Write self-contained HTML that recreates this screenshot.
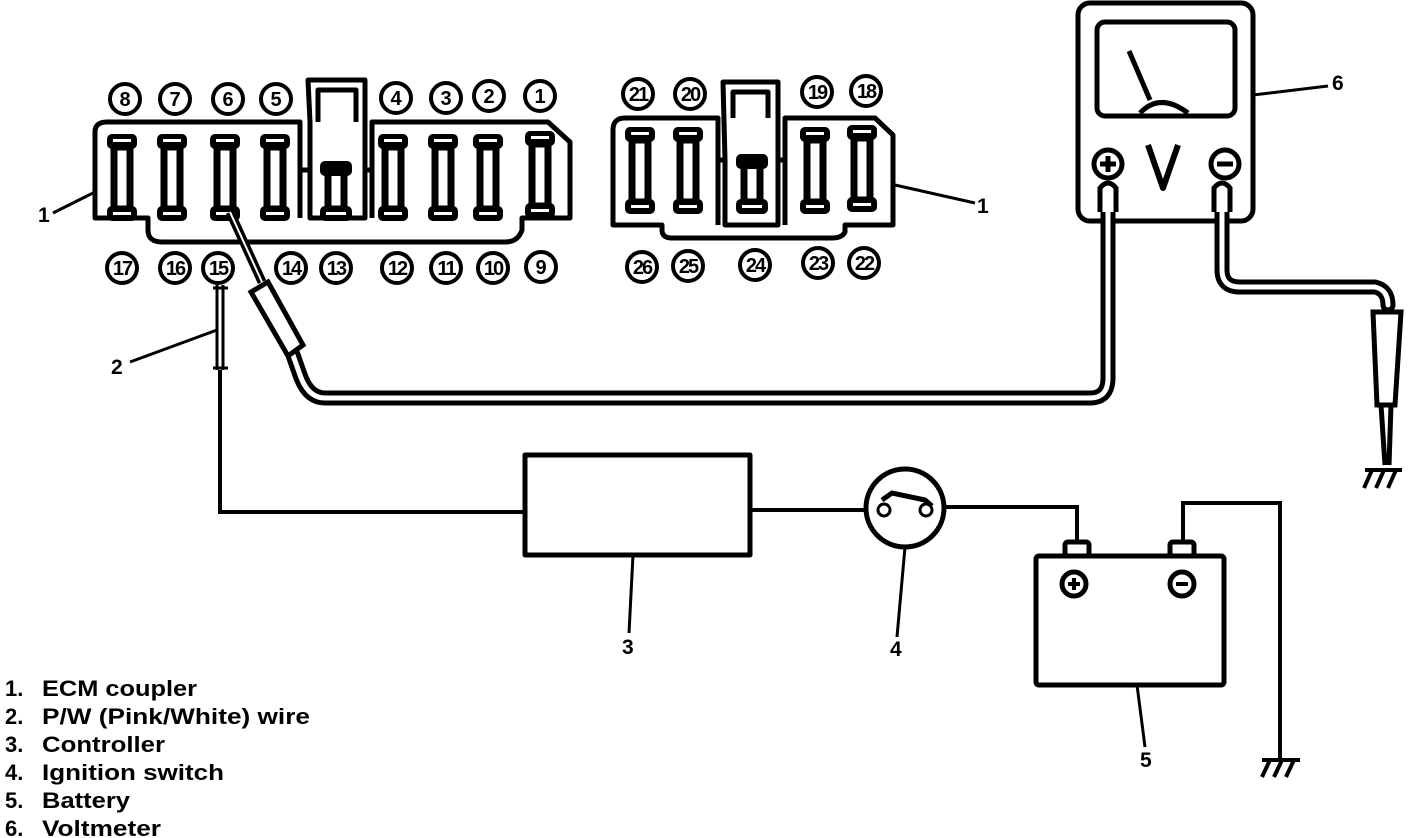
<!DOCTYPE html>
<html><head><style>
html,body{margin:0;padding:0;background:#fff;}
svg{display:block;}
text{font-family:"Liberation Sans",Arial,sans-serif;font-weight:bold;fill:#000;}
</style></head><body>
<svg width="1408" height="838" viewBox="0 0 1408 838" xmlns="http://www.w3.org/2000/svg">
<defs>
<g id="pin">
  <rect x="-8" y="-30" width="16" height="62" fill="#fff" stroke="#000" stroke-width="7"/>
  <rect x="-15" y="-43" width="30" height="15" rx="5" fill="#000"/>
  <rect x="-9" y="-38" width="18" height="3" fill="#fff"/>
  <rect x="-15" y="29" width="30" height="15" rx="5" fill="#000"/>
  <rect x="-9" y="35" width="18" height="3" fill="#fff"/>
</g>
<g id="pins">
  <rect x="-8" y="-18" width="16" height="38" fill="#fff" stroke="#000" stroke-width="7"/>
  <rect x="-16" y="-28" width="32" height="15" rx="5" fill="#000"/>
  <rect x="-16" y="17" width="32" height="15" rx="5" fill="#000"/>
  <rect x="-10" y="23" width="20" height="3" fill="#fff"/>
</g>
</defs>
<g fill="none" stroke="#000" stroke-width="5" stroke-linejoin="round">
<path d="M95,132 Q95,122 107,122 L300,122 L300,170 L310,170 L310,122 L308,80 L365,80 L365,122 L365,170 L372,170 L372,122 L548,122 L570,142 L570,218 L522,218 L522,230 Q518,242 505,242 L162,242 Q148,242 148,230 L148,218 L95,218 Z"/>
<path d="M318,122 L318,90 L356,90 L356,122"/>
<path d="M300,170 L300,218 M372,170 L372,218 M310,168 L310,218 L365,218 L365,168"/>
<path d="M613,130 Q613,118 625,118 L718,118 L718,160 L725,160 L723,82 L778,82 L778,160 L785,160 L785,118 L875,118 L893,135 L893,225 L845,225 L845,232 Q842,238 832,238 L672,238 Q662,238 662,230 L662,225 L613,225 Z"/>
<path d="M733,118 L733,92 L768,92 L768,118"/>
<path d="M718,160 L718,225 M785,160 L785,225 M725,160 L725,225 L778,225 L778,160"/>
<rect x="1078" y="3" width="175" height="218" rx="12"/>
<rect x="1097" y="22" width="138" height="94" rx="8"/>
<path d="M1129,51 L1150,100 M1140,113 Q1160,92 1188,113"/>
<path d="M1148,145 L1163,188 L1178,145" stroke-width="6"/>
<circle cx="1108" cy="164" r="14"/>
<circle cx="1225" cy="164" r="14"/>
<rect x="525" y="455" width="225" height="100"/>
<circle cx="905" cy="508" r="39"/>
<rect x="1036" y="556" width="188" height="129" rx="3"/>
<rect x="1065" y="542" width="24" height="14" rx="3"/>
<rect x="1170" y="542" width="24" height="14" rx="3"/>
<circle cx="1074" cy="584" r="12"/>
<circle cx="1182" cy="584" r="12"/>
</g>
<g>
<use href="#pin" x="122" y="177"/><use href="#pin" x="172" y="177"/><use href="#pin" x="225" y="177"/><use href="#pin" x="275" y="177"/>
<use href="#pins" x="336" y="189"/>
<use href="#pin" x="393" y="177"/><use href="#pin" x="443" y="177"/><use href="#pin" x="488" y="177"/><use href="#pin" x="540" y="174"/>
<use href="#pin" x="640" y="170"/><use href="#pin" x="688" y="170"/>
<use href="#pins" x="752" y="182"/>
<use href="#pin" x="815" y="170"/><use href="#pin" x="862" y="168"/>
</g>
<g fill="#fff" stroke="#000" stroke-width="4">
<circle cx="125" cy="99" r="15"/><circle cx="175" cy="99" r="15"/><circle cx="228" cy="99" r="15"/><circle cx="276" cy="99" r="15"/>
<circle cx="396" cy="98" r="15"/><circle cx="446" cy="98" r="15"/><circle cx="489" cy="96" r="15"/><circle cx="540" cy="96" r="15"/>
<circle cx="122" cy="268" r="15"/><circle cx="175" cy="268" r="15"/><circle cx="218" cy="268" r="15"/><circle cx="291" cy="268" r="15"/><circle cx="336" cy="268" r="15"/><circle cx="397" cy="268" r="15"/><circle cx="446" cy="268" r="15"/><circle cx="493" cy="268" r="15"/><circle cx="541" cy="267" r="15"/>
<circle cx="638" cy="94" r="15"/><circle cx="690" cy="94" r="15"/><circle cx="817" cy="92" r="15"/><circle cx="866" cy="91" r="15"/>
<circle cx="642" cy="267" r="15"/><circle cx="688" cy="266" r="15"/><circle cx="755" cy="265" r="15"/><circle cx="818" cy="263" r="15"/><circle cx="864" cy="263" r="15"/>
</g>
<g font-size="20" text-anchor="middle">
<text x="125" y="106">8</text><text x="175" y="106">7</text><text x="228" y="106">6</text><text x="276" y="106">5</text>
<text x="396" y="105">4</text><text x="446" y="105">3</text><text x="489" y="103">2</text><text x="540" y="103">1</text>
<text x="122" y="275" letter-spacing="-2">17</text><text x="175" y="275" letter-spacing="-2">16</text><text x="218" y="275" letter-spacing="-2">15</text><text x="291" y="275" letter-spacing="-2">14</text><text x="336" y="275" letter-spacing="-2">13</text><text x="397" y="275" letter-spacing="-2">12</text><text x="446" y="275" letter-spacing="-2">11</text><text x="493" y="275" letter-spacing="-2">10</text><text x="541" y="274">9</text>
<text x="638" y="101" letter-spacing="-2">21</text><text x="690" y="101" letter-spacing="-2">20</text><text x="817" y="99" letter-spacing="-2">19</text><text x="866" y="98" letter-spacing="-2">18</text>
<text x="642" y="274" letter-spacing="-2">26</text><text x="688" y="273" letter-spacing="-2">25</text><text x="755" y="272" letter-spacing="-2">24</text><text x="818" y="270" letter-spacing="-2">23</text><text x="864" y="270" letter-spacing="-2">22</text>
</g>
<g stroke="#000" stroke-width="5">
<path d="M1100,164 L1116,164 M1108,156 L1108,172"/>
<path d="M1217,164 L1233,164"/>
<path d="M1068,584 L1080,584 M1074,578 L1074,590" stroke-width="4"/>
<path d="M1176,584 L1188,584" stroke-width="4"/>
</g>
<g fill="none" stroke-linejoin="round" stroke-linecap="round">
<path d="M1108,195 L1108,378 Q1108,398 1090,398 L325,398 Q308,398 300,375 L293,355" stroke="#000" stroke-width="15"/>
<path d="M1108,195 L1108,378 Q1108,398 1090,398 L325,398 Q308,398 300,375 L293,355" stroke="#fff" stroke-width="5"/>
<path d="M1222,195 L1222,270 Q1222,287 1240,287 L1375,287 Q1388,290 1388,305" stroke="#000" stroke-width="15"/>
<path d="M1222,195 L1222,270 Q1222,287 1240,287 L1375,287 Q1388,290 1388,305" stroke="#fff" stroke-width="5"/>
</g>
<g fill="#fff" stroke="#000" stroke-width="5">
<path d="M1100,212 L1100,188 Q1108,178 1116,188 L1116,212"/>
<path d="M1214,212 L1214,188 Q1222,178 1230,188 L1230,212"/>
<path d="M230,212 L262,282" stroke-width="9"/>
<path d="M230,212 L262,282" stroke="#fff" stroke-width="2"/>
<path d="M251,292 L268,282 L303,345 L288,356 Z"/>
<path d="M1373,312 L1401,312 L1395,405 L1377,405 Z"/>
<path d="M1381,405 L1385,465 M1391,405 L1389,465"/>
</g>
<g fill="none" stroke="#000" stroke-width="4">
<path d="M223,285 L223,370 M217,285 L217,370 M213,288 L228,288 M213,368 L228,368" stroke-width="3"/>
<path d="M220,370 L220,512 L525,512"/>
<path d="M750,510 L866,510 M944,507 L1077,507 L1077,542"/>
<path d="M1183,542 L1183,503 L1280,503 L1280,760"/>
<path d="M882,500 L892,493 L925,500 L932,506" stroke-width="5"/>
<path d="M53,213 L95,192 M895,185 L975,203 M130,362 L217,330 M1253,95 L1328,86 M629,633 L633,555 M897,637 L905,547 M1145,747 L1137,685" stroke-width="3"/>
<path d="M1365,470 L1402,470 M1372,470 L1364,488 M1384,470 L1376,488 M1396,470 L1388,488" stroke-width="4"/>
<path d="M1262,760 L1300,760 M1270,760 L1262,777 M1282,760 L1274,777 M1294,760 L1286,777" stroke-width="4"/>
</g>
<circle cx="884" cy="510" r="6" fill="#fff" stroke="#000" stroke-width="3"/>
<circle cx="926" cy="510" r="6" fill="#fff" stroke="#000" stroke-width="3"/>
<g font-size="21">
<text x="38" y="222">1</text><text x="977" y="213">1</text><text x="111" y="374">2</text>
<text x="1332" y="90">6</text><text x="622" y="654">3</text><text x="890" y="656">4</text><text x="1140" y="767">5</text>
</g>
<g font-size="22">
<text x="5" y="696">1.</text><text x="42" y="696" textLength="155" lengthAdjust="spacingAndGlyphs">ECM coupler</text>
<text x="5" y="724">2.</text><text x="42" y="724" textLength="268" lengthAdjust="spacingAndGlyphs">P/W (Pink/White) wire</text>
<text x="5" y="752">3.</text><text x="42" y="752" textLength="123" lengthAdjust="spacingAndGlyphs">Controller</text>
<text x="5" y="780">4.</text><text x="42" y="780" textLength="182" lengthAdjust="spacingAndGlyphs">Ignition switch</text>
<text x="5" y="808">5.</text><text x="42" y="808" textLength="88" lengthAdjust="spacingAndGlyphs">Battery</text>
<text x="5" y="836">6.</text><text x="42" y="836" textLength="119" lengthAdjust="spacingAndGlyphs">Voltmeter</text>
</g>
</svg>
</body></html>
